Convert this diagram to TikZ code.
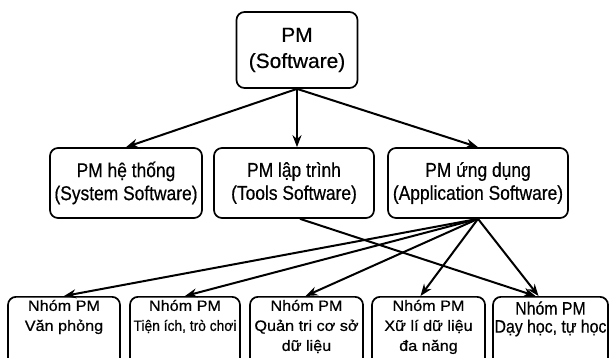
\documentclass[tikz,border=0pt]{standalone}
\usepackage{fontspec}
\setmainfont{Liberation Sans}
\newfontfamily\topf{Liberation Sans}[FakeStretch=1.02,FakeBold=0.5]
\newfontfamily\midf{Liberation Sans}[FakeStretch=0.87,FakeBold=0.5]
\newfontfamily\botf{Liberation Sans}[FakeStretch=1.08,FakeBold=0.6]
\newfontfamily\botn{Liberation Sans}[FakeStretch=0.92,FakeBold=0.6]
\newfontfamily\botc{Liberation Sans}[FakeStretch=0.88,FakeBold=0.5]
\usetikzlibrary{arrows.meta}
\begin{document}
\begin{tikzpicture}[x=1pt,y=-1pt,
  box/.style={draw, line width=1.7pt, rounded corners=8pt, inner xsep=0pt, align=center},
  lvl/.style={box, minimum height=70pt, font=\midf\fontsize{20}{23}\selectfont},
  leaf/.style={box, anchor=north, inner ysep=3pt, text depth=45pt,
               font=\botf\fontsize{15}{20}\selectfont},
  link/.style={line width=2pt, -{Stealth[length=12pt,width=9pt]}}]
\useasboundingbox (0,0) rectangle (609,357);
\clip (0,0) rectangle (609,357);

% root
\node[box, minimum width=121pt, minimum height=76pt,
      font=\topf\fontsize{20.5}{26}\selectfont] (top) at (297,50) {PM\\(Software)};

% second level
\node[lvl, minimum width=152pt] (sys)   at (126,183) {PM hệ thống\\(System Software)};
\node[lvl, minimum width=160pt] (tools) at (294,183) {PM lập trình\\(Tools Software)};
\node[lvl, minimum width=180pt] (app)   at (478,183) {PM ứng dụng\\(Application Software)};

% application groups
\node[leaf, minimum width=112pt] (b1) at (64,296) {Nhóm PM\\Văn phỏng};
\node[leaf, minimum width=110pt] (b2) at (185,296) {Nhóm PM\\{\botn Tiện ích, trò chơi}};
\node[leaf, minimum width=113pt] (b3) at (306.5,296) {Nhóm PM\\Quản tri cơ sở\\dữ liệu};
\node[leaf, minimum width=113pt] (b4) at (428.5,296) {Nhóm PM\\Xữ lí dữ liệu\\đa năng};
\node[leaf, minimum width=115pt, inner ysep=4.5pt, font=\botc\fontsize{18}{18}\selectfont] (b5) at (550.5,296)
  {Nhóm PM\\Dạy học, tự học};

% connectors
\draw[link] (top.south) -- (sys.north);
\draw[link] (top.south) -- (top.south |- tools.north);
\draw[link] (top.south) -- (app.north);
\draw[link] ([xshift=6pt]tools.south) -- ([xshift=-15pt]b5.north);
\draw[link] (app.south) -- (b1.north);
\draw[link] (app.south) -- (b2.north);
\draw[link] (app.south) -- ([xshift=-1pt]b3.north);
\draw[link] (app.south) -- ([xshift=-8pt]b4.north);
\draw[link] (app.south) -- ([xshift=-12pt]b5.north);
\end{tikzpicture}
\end{document}
